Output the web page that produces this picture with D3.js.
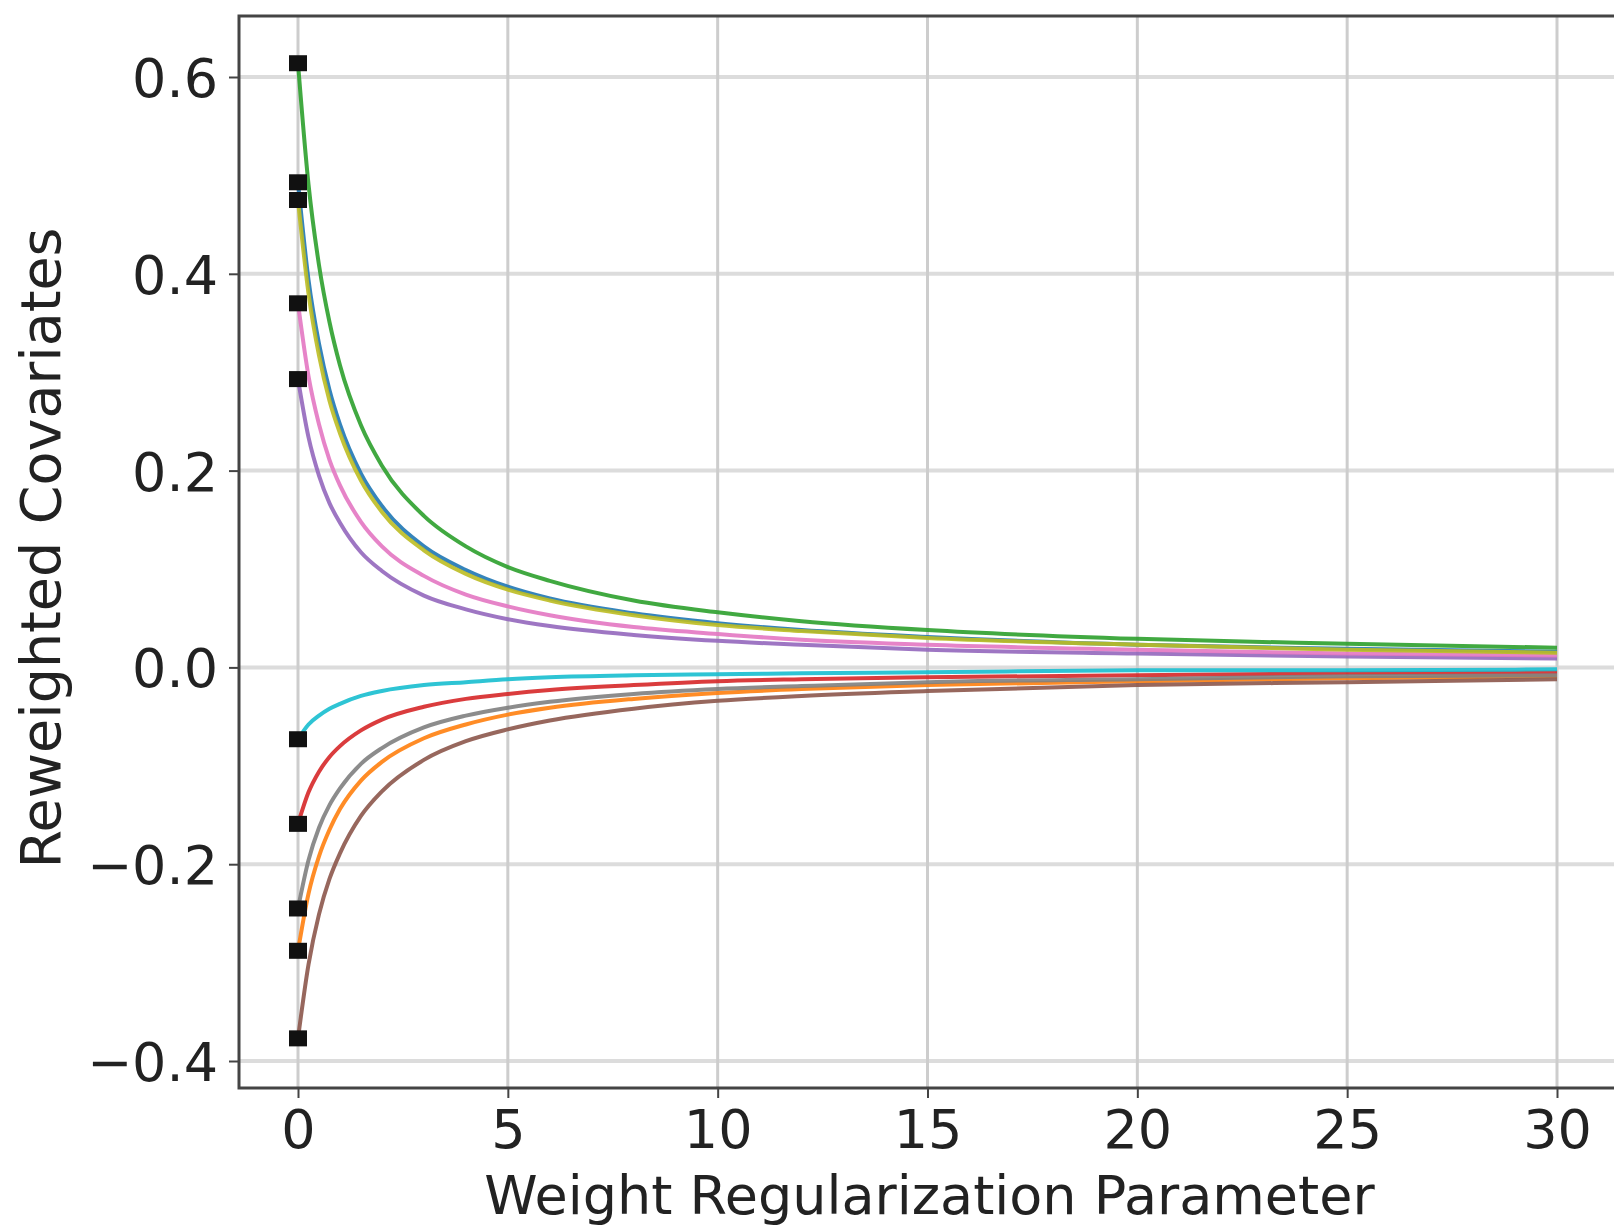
<!DOCTYPE html>
<html>
<head>
<meta charset="utf-8">
<script src="https://cdn.jsdelivr.net/npm/d3@7"></script>
<style>
  html, body { margin: 0; padding: 0; background: #fff; }
  svg { display: block; }
  text { font-family: 'DejaVu Sans', sans-serif; fill: #222; }
</style>
</head>
<body>
<svg id="chart"></svg>
<script>
// 横轴采样点（权重正则化参数）
const lambdas = [0, 0.25, 0.5, 0.75, 1, 1.5, 2, 3, 4, 5, 6, 8, 10, 12, 15, 20, 25, 30]

// 各协变量读数，顺序同 lambdas
const covBlue = [0.493, 0.394, 0.329, 0.282, 0.247, 0.197, 0.164, 0.123, 0.099, 0.082, 0.070, 0.055, 0.045, 0.038, 0.031, 0.023, 0.019, 0.016]
const covOrange = [-0.288, -0.230, -0.192, -0.165, -0.144, -0.115, -0.096, -0.072, -0.058, -0.048, -0.041, -0.032, -0.026, -0.022, -0.018, -0.014, -0.011, -0.009]
const covGreen = [0.614, 0.491, 0.409, 0.351, 0.307, 0.246, 0.205, 0.154, 0.123, 0.102, 0.088, 0.068, 0.056, 0.047, 0.038, 0.029, 0.024, 0.020]
const covRed = [-0.159, -0.127, -0.106, -0.091, -0.080, -0.064, -0.053, -0.040, -0.032, -0.027, -0.023, -0.018, -0.014, -0.012, -0.010, -0.008, -0.006, -0.005]
const covPurple = [0.293, 0.234, 0.195, 0.167, 0.147, 0.117, 0.098, 0.073, 0.059, 0.049, 0.042, 0.033, 0.027, 0.023, 0.018, 0.014, 0.011, 0.009]
const covBrown = [-0.377, -0.302, -0.251, -0.215, -0.189, -0.151, -0.126, -0.094, -0.075, -0.063, -0.054, -0.042, -0.034, -0.029, -0.024, -0.018, -0.015, -0.012]
const covPink = [0.370, 0.296, 0.247, 0.211, 0.185, 0.148, 0.123, 0.093, 0.074, 0.062, 0.053, 0.041, 0.034, 0.028, 0.023, 0.018, 0.014, 0.012]
const covGray = [-0.245, -0.196, -0.163, -0.140, -0.123, -0.098, -0.082, -0.061, -0.049, -0.041, -0.035, -0.027, -0.022, -0.019, -0.015, -0.012, -0.009, -0.008]
const covOlive = [0.475, 0.380, 0.317, 0.271, 0.238, 0.190, 0.158, 0.119, 0.095, 0.079, 0.068, 0.053, 0.043, 0.037, 0.030, 0.023, 0.018, 0.015]
const covCyan = [-0.073, -0.058, -0.049, -0.042, -0.037, -0.029, -0.024, -0.018, -0.015, -0.012, -0.010, -0.008, -0.007, -0.006, -0.005, -0.003, -0.003, -0.002]

const seriesList = [covBlue, covOrange, covGreen, covRed, covPurple, covBrown, covPink, covGray, covOlive, covCyan]
const seriesColors = ['#1f77b4', '#ff7f0e', '#2ca02c', '#d62728', '#9467bd', '#8c564b', '#e377c2', '#7f7f7f', '#bcbd22', '#17becf']

const xTicks = [0, 5, 10, 15, 20, 25, 30]
const yTicks = [-0.4, -0.2, 0.0, 0.2, 0.4, 0.6]

const xLabel = 'Weight Regularization Parameter'
const yLabel = 'Reweighted Covariates'

const width = 1614
const height = 1226
// 绘图区边界，右侧超出画布
const plot = { left: 239, right: 1620, top: 16, bottom: 1088 }

const svg = d3.select('#chart')
  .attr('width', width)
  .attr('height', height)

const x = d3.scaleLinear()
  .domain([0, 30])
  .range([298, 1557])

const y = d3.scaleLinear()
  .domain([-0.4, 0.6])
  .range([1061, 77])

// 网格
const grid = svg.append('g').attr('class', 'grid')

grid.selectAll('.hgrid')
  .data(yTicks)
  .enter().append('line')
  .attr('x1', plot.left)
  .attr('x2', plot.right)
  .attr('y1', d => y(d))
  .attr('y2', d => y(d))
  .attr('stroke', '#dcdcdc')
  .attr('stroke-width', 4)

grid.selectAll('.vgrid')
  .data(xTicks)
  .enter().append('line')
  .attr('x1', d => x(d))
  .attr('x2', d => x(d))
  .attr('y1', plot.top)
  .attr('y2', plot.bottom)
  .attr('stroke', '#cdcdcd')
  .attr('stroke-width', 3)

// 曲线
const line = d3.line()
  .x((d, i) => x(lambdas[i]))
  .y(d => y(d))
  .curve(d3.curveMonotoneX)

svg.append('g')
  .selectAll('path')
  .data(seriesList)
  .enter().append('path')
  .attr('d', line)
  .attr('fill', 'none')
  .attr('stroke', (d, i) => seriesColors[i])
  .attr('stroke-opacity', 0.9)
  .attr('stroke-width', 4)

// λ = 0 处的方块标记
const markerSize = 18
svg.append('g')
  .selectAll('rect')
  .data(seriesList)
  .enter().append('rect')
  .attr('x', x(lambdas[0]) - markerSize / 2)
  .attr('y', d => y(d[0]) - markerSize / 2 + 1)
  .attr('width', markerSize)
  .attr('height', markerSize - 2)
  .attr('fill', '#111')

// 边框
svg.append('path')
  .attr('d', `M${plot.right},${plot.top}H${plot.left}V${plot.bottom}H${plot.right}`)
  .attr('fill', 'none')
  .attr('stroke', '#444')
  .attr('stroke-width', 3)

// 坐标轴
const fontSize = 54

const xAxis = svg.append('g')
  .attr('transform', `translate(0,${plot.bottom})`)
  .call(d3.axisBottom(x).tickValues(xTicks).tickSize(10).tickPadding(12).tickFormat(d3.format('d')))

const yAxis = svg.append('g')
  .attr('transform', `translate(${plot.left},0)`)
  .call(d3.axisLeft(y).tickValues(yTicks).tickSize(10).tickPadding(11).tickFormat(d3.format('.1f')))

;[xAxis, yAxis].forEach(axis => {
  axis.select('.domain').remove()
  axis.selectAll('.tick line')
    .attr('stroke', '#444')
    .attr('stroke-width', 2)
  axis.selectAll('.tick text')
    .style('font-size', `${fontSize}px`)
    .style('font-family', "'DejaVu Sans', sans-serif")
    .attr('fill', '#222')
})

yAxis.selectAll('.tick text').attr('dy', '0.36em')

// 轴标题
svg.append('text')
  .attr('x', (plot.left + plot.right) / 2)
  .attr('y', 1214)
  .attr('text-anchor', 'middle')
  .style('font-size', `${fontSize}px`)
  .text(xLabel)

svg.append('text')
  .attr('transform', `translate(60,${(plot.top + plot.bottom) / 2 - 4}) rotate(-90)`)
  .attr('text-anchor', 'middle')
  .style('font-size', '55.5px')
  .text(yLabel)
</script>
</body>
</html>
